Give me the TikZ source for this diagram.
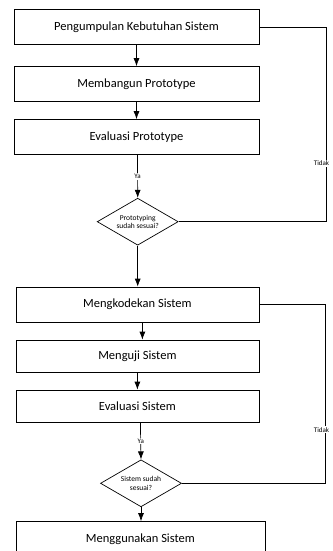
\documentclass[tikz,border=0pt]{standalone}
\usepackage{fontspec}
\setmainfont{Carlito}
\usetikzlibrary{shapes.geometric, arrows.meta}

\begin{document}
\begin{tikzpicture}[x=1pt, y=-1pt, line width=0.7pt,
    every node/.style={font=\fontsize{12.5}{14}\selectfont},
    langkah/.style={draw, rectangle, inner sep=0pt, minimum height=35pt},
    cek/.style={draw, diamond, inner sep=0pt, align=center, aspect=1.7,
      minimum width=81pt, minimum height=47pt, font=\fontsize{7.5}{8.5}\selectfont},
    lbl/.style={fill=white, inner sep=1pt, font=\fontsize{7}{8}\selectfont},
    tepi/.style={lbl, pos=0.35, anchor=east, xshift=4pt},
    panah/.style={-{Latex[length=8pt, width=6pt]}}]
  % Batas gambar
  \clip (0,0) rectangle (332,551);
  \fill[white] (0,0) rectangle (332,551);
  % Tahap prototipe
  \node[langkah, minimum width=245pt] (peng) at (136.5,27) {Pengumpulan Kebutuhan Sistem};
  \node[langkah, minimum width=245pt] (bangun) at (136.5,84) {Membangun Prototype};
  \node[langkah, minimum width=245pt] (evalproto) at (136.5,137) {Evaluasi Prototype};
  \node[cek] (cekproto) at (137.7,221.7) {Prototyping\\sudah sesuai?};
  % Tahap sistem
  \node[langkah, minimum width=243pt] (kode) at (137.4,304.5) {Mengkodekan Sistem};
  \node[langkah, minimum width=243pt, minimum height=32pt] (uji) at (137.4,356) {Menguji Sistem};
  \node[langkah, minimum width=243pt, minimum height=32pt] (evalsis) at (137.4,406) {Evaluasi Sistem};
  \node[cek] (ceksis) at (141,483.3) {Sistem sudah\\sesuai?};
  \node[langkah, minimum width=249pt] (guna) at (140.4,539) {Menggunakan Sistem};
  % Panah
  \draw[panah] (peng) -- (bangun);
  \draw[panah] (bangun) -- (evalproto);
  \draw[panah] ([xshift=1pt]evalproto.south) -- node[lbl] {Ya} (cekproto.north);
  \draw[panah] (cekproto) -- (cekproto.south |- kode.north);
  \draw[panah] ([xshift=5pt]kode.south) -- ([xshift=5pt]uji.north);
  \draw[panah] (uji) -- (evalsis);
  \draw[panah] ([xshift=3pt]evalsis.south) -- node[lbl] {Ya} (ceksis.north);
  \draw[panah] (ceksis) -- (ceksis.south |- guna.north);
  % Umpan balik
  \draw (peng.east) -- (326.5,27) |- node[tepi] {Tidak} (cekproto.east);
  \draw (kode.east) -- (325.5,304.5) |- node[tepi, xshift=1pt] {Tidak} (ceksis.east);
\end{tikzpicture}
\end{document}
